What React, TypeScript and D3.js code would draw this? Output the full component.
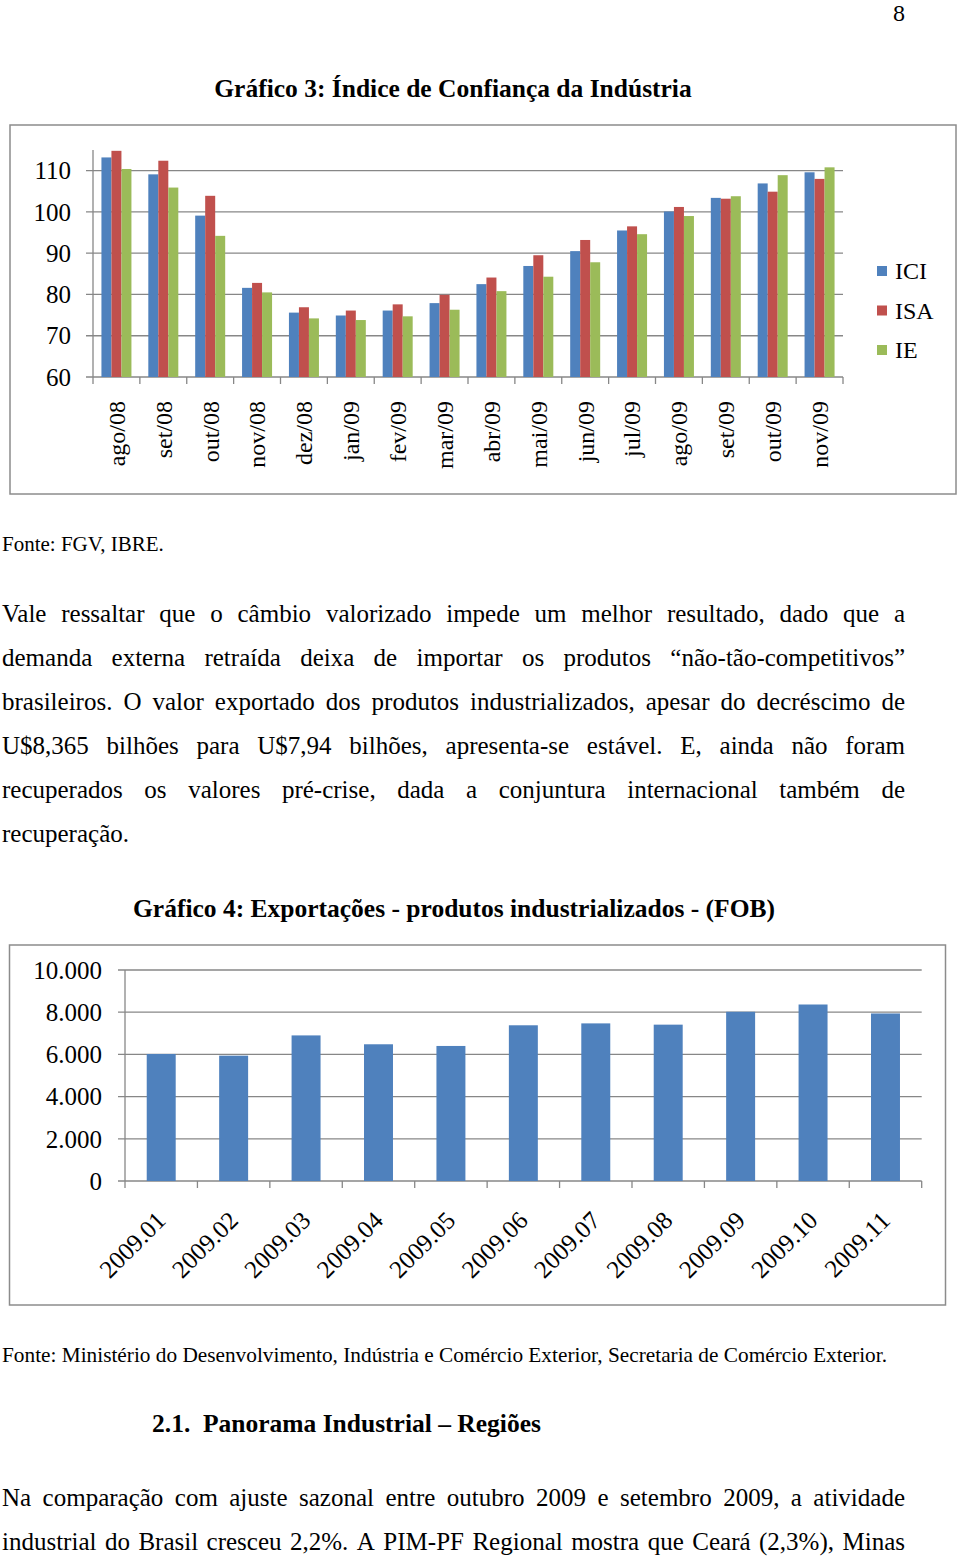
import React from "react";
import * as d3 from "d3";

// ---------- Data: Gráfico 3 ----------
const months3 = ["ago/08","set/08","out/08","nov/08","dez/08","jan/09","fev/09","mar/09","abr/09","mai/09","jun/09","jul/09","ago/09","set/09","out/09","nov/09"];
const seriesNames = ["ICI","ISA","IE"];
const ICI = [113.2,109.1,99.1,81.6,75.6,74.9,76.1,77.9,82.5,86.9,90.5,95.5,100.1,103.4,106.9,109.6];
const ISA = [114.8,112.4,103.9,82.8,76.9,76.1,77.6,79.9,84.1,89.5,93.2,96.5,101.2,103.2,104.9,108.0];
const IE  = [110.4,105.9,94.2,80.5,74.2,73.8,74.7,76.3,80.8,84.3,87.8,94.6,99.0,103.8,108.9,110.8];
const yTicks3 = [60,70,80,90,100,110];
const colors = ["#4F81BD","#C0504D","#9BBB59"];

// ---------- Data: Gráfico 4 ----------
const months4 = ["2009.01","2009.02","2009.03","2009.04","2009.05","2009.06","2009.07","2009.08","2009.09","2009.10","2009.11"];
const exportsFOB = [6020,5940,6900,6480,6400,7380,7470,7410,8020,8365,7940];
const yTicks4 = [0,2000,4000,6000,8000,10000];
const yTickLabels4 = ["0","2.000","4.000","6.000","8.000","10.000"];

// ---------- Text ----------
const para1 = [
  "Vale ressaltar que o câmbio valorizado impede um melhor resultado, dado que a",
  "demanda externa retraída deixa de importar os produtos “não-tão-competitivos”",
  "brasileiros. O valor exportado dos produtos industrializados, apesar do decréscimo de",
  "U$8,365 bilhões para U$7,94 bilhões, apresenta-se estável. E, ainda não foram",
  "recuperados os valores pré-crise, dada a conjuntura internacional  também de",
];
const para1Last = "recuperação.";
const para2 = [
  "Na comparação com ajuste sazonal entre outubro 2009 e setembro 2009, a atividade",
  "industrial do Brasil cresceu 2,2%. A PIM-PF Regional mostra que Ceará (2,3%), Minas",
];

const FONT = "'Liberation Serif', 'Times New Roman', serif";
const GRID = "#878787";

let _ctx: CanvasRenderingContext2D | null = null;
function measure(s: string, size: number, weight = "normal") {
  if (!_ctx) _ctx = document.createElement("canvas").getContext("2d");
  _ctx!.font = `${weight} ${size}px 'Liberation Serif'`;
  return _ctx!.measureText(s).width;
}

function Justified({ text, x0, x1, y, size }: { text: string; x0: number; x1: number; y: number; size: number }) {
  const words = text.split(/\s+/);
  const widths = words.map((w) => measure(w, size));
  const total = widths.reduce((a, b) => a + b, 0);
  const gap = (x1 - x0 - total) / (words.length - 1);
  let x = x0;
  return (
    <g>
      {words.map((w, i) => {
        const el = (
          <text key={i} x={x} y={y} fontSize={size} fontFamily={FONT}>
            {w}
          </text>
        );
        x += widths[i] + gap;
        return el;
      })}
    </g>
  );
}

function Chart3() {
  const x = d3.scaleBand<string>().domain(months3).range([93, 843]).padding(0);
  const bw = x.bandwidth();
  const xs = d3.scaleBand<string>().domain(seriesNames).range([bw * 0.18, bw * 0.82]).padding(0);
  const y = d3.scaleLinear().domain([60, 115]).range([377, 150]);
  const data = [ICI, ISA, IE];
  return (
    <g>
      <rect x={10} y={125} width={946} height={369} fill="#fff" stroke="#8c8c8c" strokeWidth={1.5} />
      {yTicks3.map((t) => (
        <g key={t}>
          <line x1={86} x2={843} y1={y(t)} y2={y(t)} stroke={GRID} strokeWidth={1.3} />
          <text x={71} y={y(t)} dy="0.35em" textAnchor="end" fontSize={25} fontFamily={FONT}>{t}</text>
        </g>
      ))}
      <line x1={93} x2={93} y1={y(115)} y2={y(60) + 7} stroke={GRID} strokeWidth={1.3} />
      {months3.map((m) => (
        <line key={m} x1={x(m)! + bw} x2={x(m)! + bw} y1={y(60)} y2={y(60) + 7} stroke={GRID} strokeWidth={1.3} />
      ))}
      {data.map((s, si) =>
        s.map((v, i) => (
          <rect key={si + "-" + i} x={x(months3[i])! + xs(seriesNames[si])!} width={xs.bandwidth()} y={y(v)} height={y(60) - y(v)} fill={colors[si]} />
        ))
      )}
      {months3.map((m) => (
        <text key={m} transform={`translate(${x(m)! + bw / 2},401) rotate(-90)`} textAnchor="end" dy="0.35em" fontSize={24} fontFamily={FONT}>{m}</text>
      ))}
      {seriesNames.map((s, i) => (
        <g key={s} transform={`translate(877,${271 + i * 39.5})`}>
          <rect x={0} y={-5} width={10} height={10} fill={colors[i]} />
          <text x={18} y={0} dy="0.35em" fontSize={24} fontFamily={FONT}>{s}</text>
        </g>
      ))}
    </g>
  );
}

function Chart4() {
  const x = d3.scaleBand<string>().domain(months4).range([125, 921.7]).padding(0);
  const bw = x.bandwidth();
  const y = d3.scaleLinear().domain([0, 10000]).range([1181, 970]);
  return (
    <g>
      <rect x={9.5} y={945} width={936} height={360} fill="#fff" stroke="#8c8c8c" strokeWidth={1.5} />
      {yTicks4.map((t, i) => (
        <g key={t}>
          <line x1={118} x2={921.7} y1={y(t)} y2={y(t)} stroke={GRID} strokeWidth={1.3} />
          <text x={102} y={y(t)} dy="0.35em" textAnchor="end" fontSize={25} fontFamily={FONT}>{yTickLabels4[i]}</text>
        </g>
      ))}
      <line x1={125} x2={125} y1={y(10000)} y2={y(0) + 7} stroke={GRID} strokeWidth={1.3} />
      {months4.map((m) => (
        <line key={m} x1={x(m)! + bw} x2={x(m)! + bw} y1={y(0)} y2={y(0) + 7} stroke={GRID} strokeWidth={1.3} />
      ))}
      {exportsFOB.map((v, i) => (
        <rect key={i} x={x(months4[i])! + bw * 0.3} width={bw * 0.4} y={y(v)} height={y(0) - y(v)} fill={colors[0]} />
      ))}
      {months4.map((m) => (
        <text key={m} transform={`translate(${x(m)! + bw / 2 + 6},1222) rotate(-45)`} textAnchor="end" fontSize={25} fontFamily={FONT}>{m}</text>
      ))}
    </g>
  );
}

export default function App() {
  return (
    <svg width={960} height={1556} style={{ position: "absolute", left: 0, top: 0, background: "#fff" }} fontFamily={FONT}>
      <rect x={0} y={0} width={960} height={1556} fill="#fff" />
      <text x={893} y={21} fontSize={24} fontFamily={FONT}>8</text>
      <text x={453} y={97} textAnchor="middle" fontSize={25.5} fontWeight="bold" fontFamily={FONT}>Gráfico 3: Índice de Confiança da Indústria</text>
      <Chart3 />
      <text x={2} y={551} fontSize={21} fontFamily={FONT}>Fonte: FGV, IBRE.</text>
      {para1.map((l, i) => (
        <Justified key={i} text={l} x0={2} x1={905} y={622 + i * 44} size={25} />
      ))}
      <text x={2} y={622 + 5 * 44} fontSize={25} fontFamily={FONT}>{para1Last}</text>
      <text x={454} y={917} textAnchor="middle" fontSize={25.5} fontWeight="bold" fontFamily={FONT}>Gráfico 4: Exportações - produtos industrializados - (FOB)</text>
      <Chart4 />
      <text x={2} y={1362} fontSize={21} fontFamily={FONT} textLength={885} lengthAdjust="spacingAndGlyphs">Fonte: Ministério do Desenvolvimento, Indústria e Comércio Exterior, Secretaria de Comércio Exterior.</text>
      <text x={152} y={1432} fontSize={25.5} fontWeight="bold" fontFamily={FONT}>2.1.</text>
      <text x={203} y={1432} fontSize={25.5} fontWeight="bold" fontFamily={FONT}>Panorama Industrial – Regiões</text>
      {para2.map((l, i) => (
        <Justified key={i} text={l} x0={2} x1={905} y={1506 + i * 44} size={25} />
      ))}
    </svg>
  );
}
